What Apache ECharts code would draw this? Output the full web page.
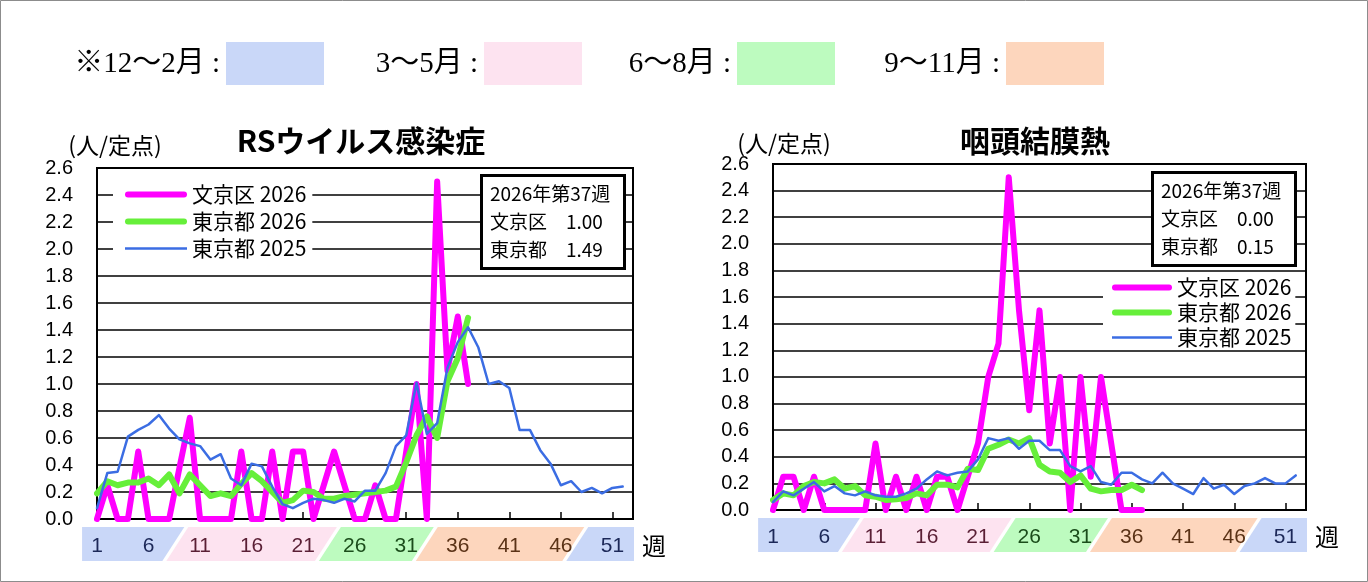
<!DOCTYPE html>
<html lang="ja">
<head>
<meta charset="UTF-8">
<title>RSウイルス感染症・咽頭結膜熱 定点当たり報告数</title>
<script src="https://cdn.jsdelivr.net/npm/echarts@6.0.0/dist/echarts.min.js"></script>
<style>
  html, body { margin: 0; padding: 0; background: #fff; }
  #chart { width: 1368px; height: 582px; }
</style>
</head>
<body>
<div id="chart"></div>
<script>
// 週 (1〜53)
var weeks = [];
for (var i = 1; i <= 53; i++) weeks.push(String(i));

var reportYear = 2026;
var reportWeek = 37;
var seriesNames = ["文京区 2026", "東京都 2026", "東京都 2025"];

// RSウイルス感染症 (人/定点)
var rsBunkyo2026 = [0, 0.25, 0, 0, 0.5, 0, 0, 0, 0.38, 0.75,
  0, 0, 0, 0, 0.5, 0, 0, 0.5, 0, 0.5,
  0.5, 0, 0.25, 0.5, 0.25, 0, 0, 0.25, 0, 0,
  0.5, 1.0, 0, 2.5, 1.1, 1.5, 1.0];
var rsTokyo2026 = [0.19, 0.28, 0.25, 0.27, 0.27, 0.3, 0.25, 0.33, 0.19, 0.33,
  0.25, 0.17, 0.19, 0.17, 0.26, 0.34, 0.28, 0.2, 0.12, 0.14,
  0.21, 0.2, 0.15, 0.15, 0.17, 0.18, 0.19, 0.2, 0.21, 0.24,
  0.42, 0.62, 0.76, 0.6, 1.02, 1.19, 1.49];
var rsTokyo2025 = [0.08, 0.34, 0.35, 0.61, 0.66, 0.7, 0.77, 0.67, 0.59, 0.56,
  0.54, 0.44, 0.48, 0.3, 0.25, 0.41, 0.39, 0.24, 0.11, 0.08,
  0.12, 0.15, 0.14, 0.12, 0.15, 0.13, 0.21, 0.21, 0.34, 0.54,
  0.62, 1.01, 0.63, 0.71, 1.12, 1.31, 1.42, 1.27, 1.0, 1.02,
  0.97, 0.66, 0.66, 0.51, 0.41, 0.25, 0.28, 0.2, 0.23, 0.19,
  0.23, 0.24];

// 咽頭結膜熱 (人/定点)
var pcfBunkyo2026 = [0, 0.25, 0.25, 0, 0.25, 0, 0, 0, 0, 0,
  0.5, 0, 0.25, 0, 0.25, 0, 0.25, 0.25, 0, 0.25,
  0.5, 1.0, 1.25, 2.5, 1.5, 0.75, 1.5, 0.5, 1.0, 0,
  1.0, 0.25, 1.0, 0.5, 0, 0, 0];
var pcfTokyo2026 = [0.075, 0.125, 0.11, 0.18, 0.21, 0.2, 0.23, 0.16, 0.18, 0.11,
  0.1, 0.075, 0.08, 0.09, 0.125, 0.11, 0.19, 0.19, 0.17, 0.31,
  0.3, 0.46, 0.49, 0.53, 0.5, 0.54, 0.34, 0.29, 0.28, 0.21,
  0.26, 0.16, 0.14, 0.15, 0.15, 0.19, 0.15];
var pcfTokyo2025 = [0.06, 0.14, 0.11, 0.16, 0.21, 0.14, 0.18, 0.125, 0.11, 0.14,
  0.11, 0.1, 0.1, 0.125, 0.16, 0.23, 0.29, 0.26, 0.28, 0.29,
  0.38, 0.54, 0.52, 0.54, 0.46, 0.52, 0.52, 0.45, 0.45, 0.33,
  0.29, 0.33, 0.21, 0.19, 0.28, 0.28, 0.23, 0.2, 0.28, 0.2,
  0.16, 0.12, 0.24, 0.16, 0.19, 0.12, 0.18, 0.2, 0.24, 0.2,
  0.2, 0.26];

// 季節 (冬・春・夏・秋) と帯の切替週
var seasonLabels = ["※12～2月", "3～5月", "6～8月", "9～11月"];
var seasonBreaks = [8.6, 23.4, 32.8, 47.4];
var bandWeekStart = -0.45;
var bandWeekEnd = 53.1;

// 見た目
var lineColors = ["#ff00ff", "#66ef3a", "#3b6de3"];
var lineWidths = [6, 6, 2.5];
// 凡例の線 (太線は角丸)
var legendIcons = [
  "path://M3,0H59A3,3,0,0,1,59,6H3A3,3,0,0,1,3,0Z",
  "path://M3,0H59A3,3,0,0,1,59,6H3A3,3,0,0,1,3,0Z",
  "path://M0,0H62V2.5H0Z",
];
var seasonFill = ["#c9d7f8", "#fde3f0", "#bdfbbf", "#fdd6bd"];
var seasonInk = ["#1c2858", "#5a1f35", "#1b4d1b", "#5a3216"];
var jpFont = "'Noto Sans CJK JP', sans-serif";
var numFont = "'Liberation Sans', Arial, sans-serif";

var panels = [
  {
    title: "RSウイルス感染症",
    data: [rsBunkyo2026, rsTokyo2026, rsTokyo2025],
    grid: { left: 97, top: 168, width: 536, height: 351 },
    titleX: 361, titleY: 141, unitX: 115, unitY: 145,
    legend: { left: 113, top: 182, itemGap: 6, itemWidth: 62, padding: [2, 6, 2, 12] },
    box: { left: 481, top: 175 },
  },
  {
    title: "咽頭結膜熱",
    data: [pcfBunkyo2026, pcfTokyo2026, pcfTokyo2025],
    grid: { left: 773, top: 164, width: 533, height: 346 },
    titleX: 1035, titleY: 141, unitX: 784, unitY: 143,
    legend: { left: 1103, top: 275, itemGap: 4, itemWidth: 60, padding: [2, 4, 2, 9] },
    box: { left: 1152, top: 172 },
  },
];

function seasonOf(week) {
  var idx = 0;
  seasonBreaks.forEach(function (b, k) {
    if (week > b) idx = k + 1;
  });
  return idx % seasonLabels.length;
}

function last(arr) {
  return arr[arr.length - 1];
}

var chart = echarts.init(document.getElementById("chart"), null, { renderer: "canvas" });

var option = {
  animation: false,
  backgroundColor: "#fff",
  title: panels.map(function (p) {
    return {
      text:
        reportYear + "年第" + reportWeek + "週\n" +
        "文京区　" + last(p.data[0]).toFixed(2) + "\n" +
        "東京都　" + last(p.data[1]).toFixed(2),
      left: p.box.left,
      top: p.box.top,
      padding: [5, 14, 5, 9],
      borderWidth: 3,
      borderColor: "#000",
      backgroundColor: "#fff",
      z: 6,
      textStyle: { fontSize: 19, fontWeight: "normal", lineHeight: 28, fontFamily: jpFont, color: "#000" },
    };
  }),
  legend: panels.map(function (p) {
    return {
      orient: "vertical",
      left: p.legend.left,
      top: p.legend.top,
      itemWidth: p.legend.itemWidth,
      itemHeight: 14,
      itemGap: p.legend.itemGap,
      padding: p.legend.padding,
      backgroundColor: "#fff",
      selectedMode: false,
      data: seriesNames.map(function (n, k) {
        return { name: n, icon: legendIcons[k], itemStyle: { color: lineColors[k] } };
      }),
      textStyle: { fontSize: 21, fontFamily: jpFont, color: "#000" },
    };
  }),
  grid: panels.map(function (p) {
    return Object.assign({ show: true, borderColor: "#000", borderWidth: 2, backgroundColor: "transparent" }, p.grid);
  }),
  xAxis: panels.map(function (p, i) {
    return {
      type: "category",
      gridIndex: i,
      data: weeks,
      boundaryGap: false,
      axisLine: { lineStyle: { color: "#000", width: 2 } },
      axisTick: { show: true, inside: true, length: 7, interval: 4, lineStyle: { color: "#000", width: 1.5 } },
      axisLabel: {
        interval: 4,
        margin: 17,
        fontSize: 21,
        fontFamily: numFont,
        color: function (v) {
          return seasonInk[seasonOf(+v)];
        },
      },
      splitLine: { show: false },
    };
  }),
  yAxis: panels.map(function (p, i) {
    return {
      type: "value",
      gridIndex: i,
      min: 0,
      max: 2.6,
      interval: 0.2,
      axisLine: { show: true, lineStyle: { color: "#000", width: 2 } },
      axisTick: { show: false },
      axisLabel: {
        margin: 24,
        fontSize: 20,
        fontFamily: numFont,
        color: "#000",
        formatter: function (v) {
          return v.toFixed(1);
        },
      },
      splitLine: { lineStyle: { color: "#000", width: 1.5 } },
    };
  }),
  series: [],
};

panels.forEach(function (p, i) {
  p.data.forEach(function (values, k) {
    option.series.push({
      name: seriesNames[k],
      type: "line",
      xAxisIndex: i,
      yAxisIndex: i,
      data: values,
      symbol: "none",
      silent: true,
      z: 3 + k,
      itemStyle: { color: lineColors[k] },
      lineStyle: { color: lineColors[k], width: lineWidths[k], cap: "round", join: "round" },
    });
  });
});

chart.setOption(option);

// 季節帯・見出しなど (軸の座標から作る)
var graphics = [];

graphics.push({
  type: "rect",
  shape: { x: 0.5, y: 0.5, width: 1367, height: 581 },
  style: { fill: null, stroke: "#8c8c8c", lineWidth: 1 },
  silent: true,
});

// 上の季節の凡例
var seasonKeyX = [226, 484, 737, 1006];
seasonLabels.forEach(function (label, k) {
  graphics.push({
    type: "rect",
    shape: { x: seasonKeyX[k], y: 42, width: 98, height: 43 },
    style: { fill: seasonFill[k] },
    silent: true,
  });
  graphics.push({
    type: "text",
    x: seasonKeyX[k] - 6,
    y: 64,
    style: {
      text: label + " :",
      align: "right",
      verticalAlign: "middle",
      font: "29px 'Liberation Serif', 'Noto Sans CJK JP', serif",
      fill: "#000",
    },
    silent: true,
  });
});

panels.forEach(function (p, i) {
  var x0 = chart.convertToPixel({ xAxisIndex: i }, 0);
  var x1 = chart.convertToPixel({ xAxisIndex: i }, weeks.length - 1);
  var step = (x1 - x0) / (weeks.length - 1);
  var yBase = chart.convertToPixel({ yAxisIndex: i }, 0);
  function wx(w) {
    return x0 + (w - 1) * step;
  }
  var top = yBase + 8;
  var bottom = yBase + 42;
  var slant = 11;
  var gap = 2;
  var edges = [bandWeekStart].concat(seasonBreaks, [bandWeekEnd]);
  for (var s = 0; s < edges.length - 1; s++) {
    var first = s === 0;
    var lastSeg = s === edges.length - 2;
    var xa = wx(edges[s]);
    var xb = wx(edges[s + 1]);
    var pts = [
      first ? [xa, top] : [xa + slant + gap, top],
      lastSeg ? [xb, top] : [xb + slant - gap, top],
      lastSeg ? [xb, bottom] : [xb - slant - gap, bottom],
      first ? [xa, bottom] : [xa - slant + gap, bottom],
    ];
    graphics.push({
      type: "polygon",
      z: -1,
      shape: { points: pts },
      style: { fill: seasonFill[seasonOf((edges[s] + edges[s + 1]) / 2)] },
      silent: true,
    });
  }
  graphics.push({
    type: "text",
    x: x1 + 9,
    y: (top + bottom) / 2 + 2,
    style: { text: "週", align: "left", verticalAlign: "middle", font: "24px " + jpFont, fill: "#000" },
    silent: true,
  });
  graphics.push({
    type: "text",
    x: p.titleX,
    y: p.titleY,
    style: { text: p.title, align: "center", verticalAlign: "middle", font: "bold 30px " + jpFont, fill: "#000" },
    silent: true,
  });
  graphics.push({
    type: "text",
    x: p.unitX,
    y: p.unitY,
    style: { text: "(人/定点)", align: "center", verticalAlign: "middle", font: "23px " + jpFont, fill: "#000" },
    silent: true,
  });
});

chart.setOption({ graphic: graphics });
</script>
</body>
</html>
